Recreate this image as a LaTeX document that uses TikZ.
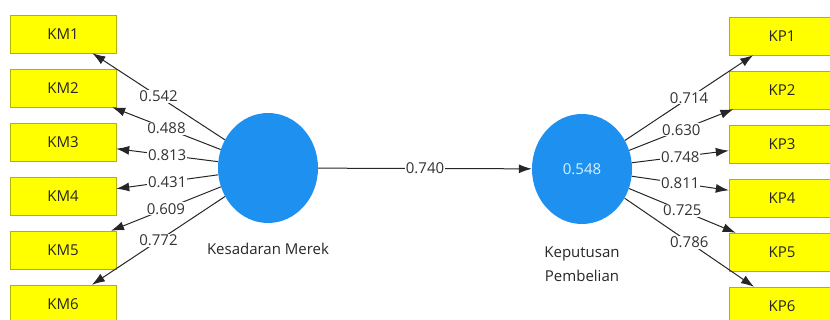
\documentclass[tikz,border=0pt]{standalone}
\usepackage{fontspec}
\setmainfont{Open Sans}
\usetikzlibrary{arrows.meta}
\usetikzlibrary{shapes.geometric}

\definecolor{boxfill}{RGB}{255,255,0}
\definecolor{boxline}{RGB}{180,180,0}
\definecolor{lvblue}{RGB}{30,144,240}

\begin{document}
\begin{tikzpicture}[
    x=1pt, y=-1pt,
    indicator/.style={draw=boxline, fill=boxfill, minimum width=106pt,
      minimum height=38pt, inner sep=0pt, text=black!85,
      font=\fontsize{15}{17}\selectfont},
    latent/.style={ellipse, fill=lvblue, minimum width=100pt,
      minimum height=110pt, inner sep=0pt, text=white!85!cyan,
      font=\fontsize{15}{17}\selectfont},
    loading/.style={draw=black!85, line width=1pt,
      -{Latex[length=13pt,width=9pt]}},
    weight/.style={fill=white, inner sep=1pt, text=black!80,
      font=\fontsize{15}{17}\selectfont}]

    \useasboundingbox (0,0) rectangle (830,320);

    % latent variables
    \node[latent] at (268,168) (km) {};
    \node[font=\fontsize{15}{17}\selectfont, text=black!85] at (268,249) (kmname)
      {Kesadaran Merek};
    \node[latent] at (582,169) (kp) {0.548};
    \node[font=\fontsize{15}{17}\selectfont, text=black!85, align=center]
      at (582,264) (kpname) {Keputusan\\[7pt]Pembelian};

    % indicators of Kesadaran Merek
    \node[indicator] at (63,34) (km1) {KM1};
    \node[indicator] at (63,88) (km2) {KM2};
    \node[indicator] at (63,142) (km3) {KM3};
    \node[indicator] at (63,196) (km4) {KM4};
    \node[indicator] at (63,250) (km5) {KM5};
    \node[indicator] at (63,304) (km6) {KM6};

    % indicators of Keputusan Pembelian
    \node[indicator] at (782,36) (kp1) {KP1};
    \node[indicator] at (782,90) (kp2) {KP2};
    \node[indicator] at (782,144) (kp3) {KP3};
    \node[indicator] at (782,198) (kp4) {KP4};
    \node[indicator] at (782,252) (kp5) {KP5};
    \node[indicator] at (782,306) (kp6) {KP6};

    % outer loadings, left
    \draw[loading] (km) -- node[weight] {0.542} (km1);
    \draw[loading] (km) -- node[weight] {0.488} (km2);
    \draw[loading] (km) -- node[weight] {0.813} (km3);
    \draw[loading] (km) -- node[weight] {0.431} (km4);
    \draw[loading] (km) -- node[weight] {0.609} (km5);
    \draw[loading] (km) -- node[weight] {0.772} (km6);

    % outer loadings, right
    \draw[loading] (kp) -- node[weight] {0.714} (kp1);
    \draw[loading] (kp) -- node[weight] {0.630} (kp2);
    \draw[loading] (kp) -- node[weight] {0.748} (kp3);
    \draw[loading] (kp) -- node[weight] {0.811} (kp4);
    \draw[loading] (kp) -- node[weight] {0.725} (kp5);
    \draw[loading] (kp) -- node[weight] {0.786} (kp6);

    % path coefficient
    \draw[loading] (km) -- node[weight] {0.740} (kp);

\end{tikzpicture}
\end{document}
